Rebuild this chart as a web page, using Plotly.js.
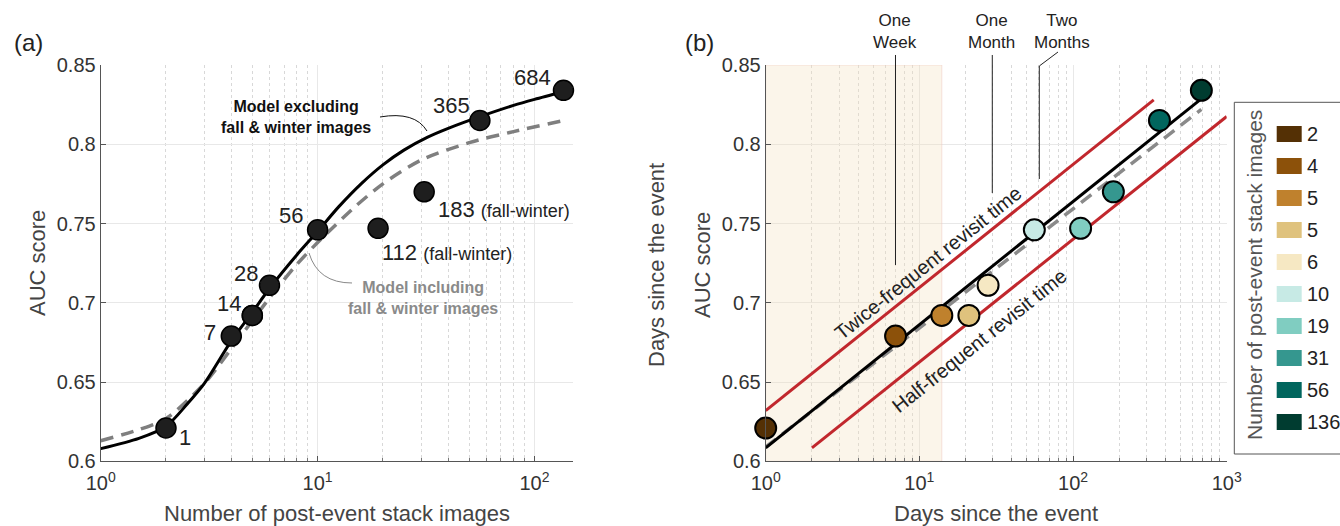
<!DOCTYPE html>
<html><head><meta charset="utf-8">
<script src="https://cdn.plot.ly/plotly-3.0.1.min.js"></script>
<style>html,body{margin:0;padding:0;background:#fff}#chart{width:1340px;height:526px}</style>
</head><body><div id="chart"></div>
<script>
// ---------------- data ----------------
const days = [1, 7, 14, 21, 28, 56, 112, 183, 365, 684];
const numImages = [2, 4, 5, 5, 6, 10, 19, 31, 56, 136];
const aucScore = [0.621, 0.679, 0.692, 0.692, 0.711, 0.746, 0.747, 0.770, 0.815, 0.834];
const leftLabels = ['1', '7', '14', '', '28', '56', '112 (fall-winter)', '183 (fall-winter)', '365', '684'];
const pointColors = ['#543005', '#8c510a', '#bf812d', '#dfc27d', '#f6e8c3', '#c7eae5', '#80cdc1', '#35978f', '#01665e', '#003c30'];
const legendTitle = 'Number of post-event stack images';
const legendLabels = ['2', '4', '5', '5', '6', '10', '19', '31', '56', '136'];

const modelExclImages = [1, 1.5, 2, 2.5, 3, 4, 5, 6, 8, 10, 12.5, 16, 20, 25, 32, 40, 56, 80, 100, 136];
const modelExclAUC = [0.608, 0.6145, 0.622, 0.636, 0.649, 0.676, 0.694, 0.709, 0.730, 0.745, 0.7605, 0.7755, 0.787, 0.7963, 0.8043, 0.810, 0.8174, 0.8245, 0.8283, 0.8331];
const modelInclImages = [1, 1.5, 2, 3, 4, 6, 8, 10, 15, 20, 30, 50, 80, 136];
const modelInclAUC = [0.613, 0.620, 0.627, 0.649, 0.671, 0.703, 0.724, 0.738, 0.761, 0.775, 0.790, 0.801, 0.808, 0.815];

const fitDays = [1, 670];       const fitAUC = [0.6085, 0.828];
const twiceDays = [1, 335];     const twiceAUC = [0.632, 0.828];
const halfDays = [2, 1000];     const halfAUC = [0.6085, 0.8175];
const inclDays = [1, 684];      const inclAUC = [0.609, 0.822];
const shadeDays = [1, 14];      const shadeAUC = [0.6, 0.85];

const xTickVals1 = [1, 10, 100];
const xTickText1 = ['10<sup>0</sup>', '10<sup>1</sup>', '10<sup>2</sup>'];
const xTickVals2 = [1, 10, 100, 1000];
const xTickText2 = ['10<sup>0</sup>', '10<sup>1</sup>', '10<sup>2</sup>', '10<sup>3</sup>'];
const yTickVals = [0.6, 0.65, 0.7, 0.75, 0.8, 0.85];
const yTickText = ['0.6', '0.65', '0.7', '0.75', '0.8', '0.85'];

// --------------- layout helpers ---------------
const W = 1340, H = 526;
const px = v => v / W;
const py = v => 1 - v / H;
const F = 'Liberation Sans, Arial, sans-serif';
const TXT = '#333';

function minorVals(maxDec) {
  const out = [];
  for (let d = 0; d < maxDec; d++) for (let m = 2; m <= 9; m++) out.push(m * Math.pow(10, d));
  return out;
}

const axBase = {
  showline: true, linecolor: '#555', linewidth: 1, mirror: false,
  ticks: 'inside', ticklen: 5, tickcolor: '#555', tickwidth: 1,
  showgrid: true, gridcolor: '#e8e8e8', gridwidth: 1, zeroline: false,
  tickfont: {family: F, size: 20, color: TXT}, fixedrange: true
};

const traces = [];
// ---- left panel ----
traces.push({x: modelInclImages, y: modelInclAUC, xaxis: 'x', yaxis: 'y', mode: 'lines',
  line: {color: '#7f7f7f', width: 3.5, dash: '13px,8px', shape: 'spline', smoothing: 0.8}, hoverinfo: 'skip'});
traces.push({x: modelExclImages, y: modelExclAUC, xaxis: 'x', yaxis: 'y', mode: 'lines',
  line: {color: '#000', width: 3, shape: 'spline', smoothing: 0.8}, hoverinfo: 'skip'});
traces.push({x: numImages, y: aucScore, xaxis: 'x', yaxis: 'y', mode: 'markers', cliponaxis: false,
  marker: {size: 20, color: '#1e1e1e', line: {color: '#000', width: 1.5}}, hoverinfo: 'skip'});

// ---- right panel ----
traces.push({x: [shadeDays[0], shadeDays[1], shadeDays[1], shadeDays[0], shadeDays[0]],
  y: [shadeAUC[0], shadeAUC[0], shadeAUC[1], shadeAUC[1], shadeAUC[0]],
  xaxis: 'x2', yaxis: 'y2', mode: 'lines', fill: 'toself',
  fillcolor: 'rgba(244,224,190,0.33)', line: {color: 'rgba(240,200,190,0.5)', width: 1}, hoverinfo: 'skip'});
traces.push({x: twiceDays, y: twiceAUC, xaxis: 'x2', yaxis: 'y2', mode: 'lines',
  line: {color: '#c1272d', width: 3}, hoverinfo: 'skip'});
traces.push({x: halfDays, y: halfAUC, xaxis: 'x2', yaxis: 'y2', mode: 'lines',
  line: {color: '#c1272d', width: 3}, hoverinfo: 'skip'});
traces.push({x: inclDays, y: inclAUC, xaxis: 'x2', yaxis: 'y2', mode: 'lines',
  line: {color: '#8a8a8a', width: 3.5, dash: '13px,8px'}, hoverinfo: 'skip'});
traces.push({x: fitDays, y: fitAUC, xaxis: 'x2', yaxis: 'y2', mode: 'lines',
  line: {color: '#000', width: 3}, hoverinfo: 'skip'});
traces.push({x: days, y: aucScore, xaxis: 'x2', yaxis: 'y2', mode: 'markers', cliponaxis: false,
  marker: {size: 21, color: pointColors, line: {color: '#000', width: 2}}, hoverinfo: 'skip'});

// --------------- annotations ---------------
const ann = [];
const labelOffsets = [[19, -9, 'center'], [-21, 4, 'center'], [-23, 12, 'center'], [0, 0, 'center'],
  [-23, 12, 'center'], [-27, 14, 'center'], [2, -24, 'left'], [12, -18, 'left'], [-28, 15, 'center'], [-31, 13, 'center']];
leftLabels.forEach((lab, i) => {
  if (!lab) return;
  const parts = lab.split(' (');
  const text = parts.length > 1 ? parts[0] + ' <span style="font-size:18px">(' + parts[1] + '</span>' : lab;
  ann.push({xref: 'x', yref: 'y', x: Math.log10(numImages[i]), y: aucScore[i], text: text, showarrow: false,
    xanchor: labelOffsets[i][2], yanchor: 'middle', xshift: labelOffsets[i][0], yshift: labelOffsets[i][1],
    font: {family: F, size: 22, color: '#222'}});
});

function pa(x, y, text, opts) {
  ann.push(Object.assign({xref: 'paper', yref: 'paper', x: px(x), y: py(y), text: text, showarrow: false,
    xanchor: 'center', yanchor: 'middle', font: {family: F, size: 22, color: '#444'}}, opts || {}));
}
pa(28, 43, '(a)', {font: {family: F, size: 24, color: '#222'}});
pa(700, 43, '(b)', {font: {family: F, size: 24, color: '#222'}});
pa(37, 263, 'AUC score', {textangle: -90});
pa(702, 265, 'AUC score', {textangle: -90});
pa(656, 265, 'Days since the event', {textangle: -90});
pa(336.7, 513, 'Number of post-event stack images');
pa(996, 513, 'Days since the event');
pa(296, 117, '<b>Model excluding<br>fall &amp; winter images</b>', {font: {family: F, size: 16, color: '#111'}});
pa(423, 298, '<b>Model including<br>fall &amp; winter images</b>', {font: {family: F, size: 16, color: '#8a8a8a'}});
pa(895.5, 31.5, 'One<br>Week', {font: {family: F, size: 17, color: '#222'}});
pa(991.7, 32, 'One<br>Month', {font: {family: F, size: 17, color: '#222'}});
pa(1061.7, 32, 'Two<br>Months', {font: {family: F, size: 17, color: '#222'}});
pa(928, 263, 'Twice-frequent revisit time', {textangle: -38.6, font: {family: F, size: 20, color: '#222'}});
pa(979, 341, 'Half-frequent revisit time', {textangle: -38.6, font: {family: F, size: 20, color: '#222'}});
pa(1254, 275, legendTitle, {textangle: -90, font: {family: F, size: 21, color: '#555'}});

// legend swatches
const shapes = [];
const legTop = 134, legStep = 32;
legendLabels.forEach((lab, i) => {
  const cy = legTop + i * legStep;
  shapes.push({type: 'rect', xref: 'paper', yref: 'paper', x0: px(1276.7), x1: px(1301.7),
    y0: py(cy - 8), y1: py(cy + 8), fillcolor: pointColors[i], line: {width: 0}});
  ann.push({xref: 'paper', yref: 'paper', x: px(1305), y: py(cy), text: lab, showarrow: false,
    xanchor: 'left', yanchor: 'middle', font: {family: F, size: 20, color: '#222'}});
});
shapes.push({type: 'rect', xref: 'paper', yref: 'paper', x0: px(1234.3), x1: px(1360), y0: py(454), y1: py(102.3),
  line: {color: '#555', width: 1}, fillcolor: 'rgba(0,0,0,0)'});

// callout lines
function pth(d, color) {
  shapes.push({type: 'path', xref: 'paper', yref: 'paper', path: d, line: {color: color, width: 1}});
}
function P(x, y) { return px(x).toFixed(5) + ',' + py(y).toFixed(5); }
pth('M' + P(380, 117) + ' Q' + P(415, 111) + ' ' + P(427, 131), '#111');
pth('M' + P(309, 253) + ' Q' + P(318, 283) + ' ' + P(352, 283), '#888');
pth('M' + P(895.5, 55) + ' L' + P(895.5, 265), '#222');
pth('M' + P(992.3, 55) + ' L' + P(992.3, 193), '#222');
pth('M' + P(1058, 52) + ' L' + P(1039.3, 66) + ' L' + P(1039.3, 179), '#222');

const layout = {
  width: W, height: H, margin: {l: 0, r: 0, t: 0, b: 0},
  paper_bgcolor: '#fff', plot_bgcolor: '#fff', showlegend: false, hovermode: false,
  xaxis: Object.assign({}, axBase, {type: 'log', domain: [px(100.7), px(572.7)], range: [0, Math.log10(150)],
    tickmode: 'array', tickvals: xTickVals1, ticktext: xTickText1, anchor: 'y', ticklabelstandoff: 4,
    minor: {tickmode: 'array', tickvals: minorVals(3), showgrid: true, griddash: 'dot', gridcolor: '#d8d8d8', gridwidth: 1,
      ticks: 'inside', ticklen: 3, tickcolor: '#777'}}),
  yaxis: Object.assign({}, axBase, {domain: [py(461.3), py(65)], range: [0.6, 0.85], anchor: 'x',
    tickmode: 'array', tickvals: yTickVals, ticktext: yTickText}),
  xaxis2: Object.assign({}, axBase, {type: 'log', domain: [px(765.7), px(1226.7)], range: [0, 3],
    tickmode: 'array', tickvals: xTickVals2, ticktext: xTickText2, anchor: 'y2', ticklabelstandoff: 4,
    minor: {tickmode: 'array', tickvals: minorVals(3), showgrid: true, griddash: 'dot', gridcolor: '#d8d8d8', gridwidth: 1,
      ticks: 'inside', ticklen: 3, tickcolor: '#777'}}),
  yaxis2: Object.assign({}, axBase, {domain: [py(461.3), py(65)], range: [0.6, 0.85], anchor: 'x2',
    tickmode: 'array', tickvals: yTickVals, ticktext: yTickText}),
  annotations: ann, shapes: shapes
};

Plotly.newPlot('chart', traces, layout, {displayModeBar: false, staticPlot: true});
</script></body></html>
